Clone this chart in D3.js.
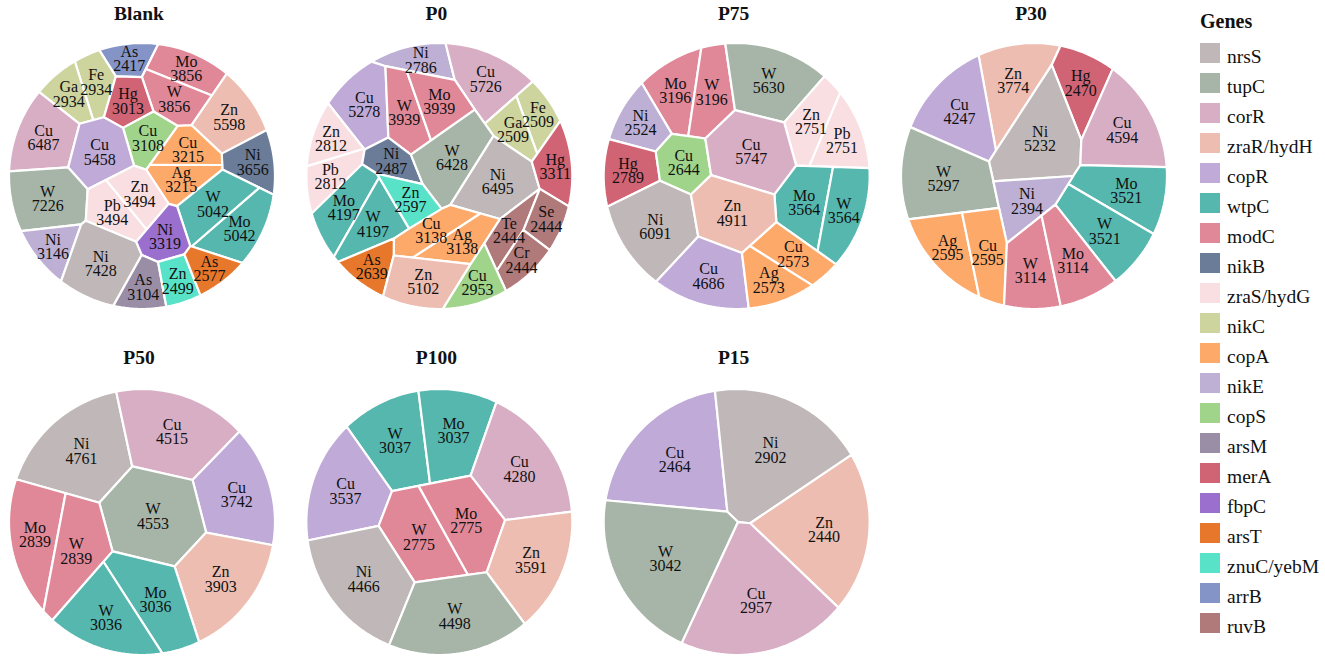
<!DOCTYPE html>
<html><head><meta charset="utf-8">
<script src="https://cdn.jsdelivr.net/npm/d3@7"></script>
<style>
body{margin:0;background:#fff}
svg{display:block}
text{font-family:"Liberation Serif","Times New Roman",serif}
</style>
</head><body>
<svg id="chart" width="1325" height="663"></svg>
<script>
// ---------------- DATA ----------------
const genes = ["nrsS","tupC","corR","zraR/hydH","copR","wtpC","modC","nikB","zraS/hydG","nikC",
  "copA","nikE","copS","arsM","merA","fbpC","arsT","znuC/yebM","arrB","ruvB"];
const geneColors = ["#c0b8b8","#a7b5a8","#d8aec5","#ecbdb0","#c0aad8","#55b7ae","#e08898","#6a7c98","#f9dfe1","#cdd49e",
  "#fda96a","#bdb0d4","#a0d48a","#9a8ea6","#d06474","#9a6fcd","#e7782b","#58e3c8","#8494c6","#b07a7a"];
const panelNames = ["Blank","P0","P75","P30","P50","P100","P15"];

// [gene, metal, value]
const blankRows = [["arrB","As",2417],["nikC","Fe",2934],["nikC","Ga",2934],["modC","Mo",3856],["modC","W",3856],
  ["zraR/hydH","Zn",5598],["nikB","Ni",3656],["corR","Cu",6487],["merA","Hg",3013],["copS","Cu",3108],
  ["copA","Cu",3215],["copA","Ag",3215],["copR","Cu",5458],["tupC","W",7226],["zraS/hydG","Zn",3494],
  ["zraS/hydG","Pb",3494],["wtpC","W",5042],["wtpC","Mo",5042],["nikE","Ni",3146],["nrsS","Ni",7428],
  ["fbpC","Ni",3319],["arsM","As",3104],["znuC/yebM","Zn",2499],["arsT","As",2577]];
const p0Rows = [["nikE","Ni",2786],["corR","Cu",5726],["copR","Cu",5278],["modC","W",3939],["modC","Mo",3939],
  ["nikC","Fe",2509],["nikC","Ga",2509],["zraS/hydG","Zn",2812],["zraS/hydG","Pb",2812],["nikB","Ni",2487],
  ["tupC","W",6428],["nrsS","Ni",6495],["merA","Hg",3311],["wtpC","Mo",4197],["wtpC","W",4197],
  ["znuC/yebM","Zn",2597],["copA","Cu",3138],["copA","Ag",3138],["ruvB","Te",2444],["ruvB","Se",2444],
  ["ruvB","Cr",2444],["arsT","As",2639],["zraR/hydH","Zn",5102],["copS","Cu",2953]];
const p75Rows = [["modC","Mo",3196],["modC","W",3196],["tupC","W",5630],["nikE","Ni",2524],["zraS/hydG","Zn",2751],
  ["zraS/hydG","Pb",2751],["merA","Hg",2789],["copS","Cu",2644],["corR","Cu",5747],["wtpC","Mo",3564],
  ["wtpC","W",3564],["nrsS","Ni",6091],["zraR/hydH","Zn",4911],["copR","Cu",4686],["copA","Cu",2573],["copA","Ag",2573]];
const p30Rows = [["zraR/hydH","Zn",3774],["merA","Hg",2470],["copR","Cu",4247],["nrsS","Ni",5232],["corR","Cu",4594],
  ["wtpC","Mo",3521],["wtpC","W",3521],["tupC","W",5297],["nikE","Ni",2394],["copA","Ag",2595],["copA","Cu",2595],
  ["modC","W",3114],["modC","Mo",3114]];
const p50Rows = [["nrsS","Ni",4761],["corR","Cu",4515],["copR","Cu",3742],["tupC","W",4553],["modC","Mo",2839],
  ["modC","W",2839],["zraR/hydH","Zn",3903],["wtpC","Mo",3036],["wtpC","W",3036]];
const p100Rows = [["wtpC","W",3037],["wtpC","Mo",3037],["corR","Cu",4280],["copR","Cu",3537],["modC","Mo",2775],
  ["modC","W",2775],["zraR/hydH","Zn",3591],["nrsS","Ni",4466],["tupC","W",4498]];
const p15Rows = [["copR","Cu",2464],["nrsS","Ni",2902],["zraR/hydH","Zn",2440],["tupC","W",3042],["corR","Cu",2957]];
const panelRows = [blankRows,p0Rows,p75Rows,p30Rows,p50Rows,p100Rows,p15Rows];

// ---------------- LAYOUT HINTS (approximate cell centres, unit-circle coords) ----------------
const blankSeeds = [[-0.03,-0.875],[-0.23,-0.79],[-0.47,-0.69],[0.33,-0.825],[0.23,-0.575],[0.68,-0.475],[0.91,-0.14],
  [-0.69,-0.375],[-0.24,-0.44],[0.045,-0.35],[0.33,-0.26],[0.28,-0.01],[-0.39,-0.125],[-0.74,0.14],[-0.02,0.1],
  [-0.24,0.25],[0.57,0.125],[0.795,0.34],[-0.67,0.51],[-0.29,0.66],[0.22,0.44],[0.03,0.825],[0.295,0.8],[0.53,0.69]];
const p0Seeds = [[-0.1,-0.895],[0.4,-0.72],[-0.5625,-0.57],[-0.25,-0.48],[0.0125,-0.56],[0.7625,-0.52],[0.54,-0.395],
  [-0.79,-0.295],[-0.81,-0.06],[-0.3625,-0.12],[0.0875,-0.13],[0.4625,0.005],[0.8875,-0.11],[-0.75,0.19],[-0.49,0.34],
  [-0.25,0.18],[-0.05,0.39],[0.1875,0.48],[0.5375,0.405],[0.825,0.32],[0.6375,0.63],[-0.5125,0.67],[-0.1125,0.79],[0.3125,0.805]];
const p75Seeds = [[-0.46,-0.68],[-0.19,-0.67],[0.28,-0.72],[-0.72,-0.39],[0.545,-0.41],[0.83,-0.245],[-0.85,-0.08],
  [-0.44,-0.095],[0.07,-0.17],[0.48,0.18],[0.82,0.25],[-0.56,0.40],[-0.04,0.29],[-0.2,0.76],[0.43,0.565],[0.235,0.78]];
const p30Seeds = [[-0.155,-0.71],[0.37,-0.69],[-0.55,-0.48],[0.07,-0.23],[0.68,-0.34],[0.715,0.105],[0.54,0.43],
  [-0.68,0.06],[-0.04,0.16],[-0.68,0.53],[-0.32,0.555],[-0.02,0.72],[0.32,0.64]];
const p50Seeds = [[-0.44,-0.55],[0.23,-0.65],[0.73,-0.21],[0.08,-0.075],[-0.81,0.087],[-0.465,0.22],[0.57,0.40],[0.12,0.585],[-0.25,0.72]];
const p100Seeds = [[-0.31,-0.6],[0.14,-0.675],[0.675,-0.325],[-0.74,-0.175],[0.175,-0.075],[-0.2,0.0625],[0.69,0.34],[-0.51,0.475],[0.15,0.66]];
const p15Seeds = [[-0.41,-0.44],[0.26,-0.54],[0.72,0.04],[-0.51,0.265],[0.124,0.50]];
const panelSeeds = [blankSeeds,p0Seeds,p75Seeds,p30Seeds,p50Seeds,p100Seeds,p15Seeds];

// ---------------- VORONOI TREEMAP (power diagrams) ----------------
function clipHalf(poly, a, b, c) {
  let inside = true;
  for (const p of poly) if (a*p[0]+b*p[1]-c > 0) { inside = false; break; }
  if (inside) return poly;
  const out = [], n = poly.length;
  for (let k = 0; k < n; k++) {
    const P = poly[k], Q = poly[(k+1)%n];
    const fp = a*P[0]+b*P[1]-c, fq = a*Q[0]+b*Q[1]-c;
    if (fp <= 0) out.push(P);
    if ((fp <= 0) !== (fq <= 0)) {
      const t = fp/(fp-fq);
      out.push([P[0]+t*(Q[0]-P[0]), P[1]+t*(Q[1]-P[1])]);
    }
  }
  return out;
}
function powerDiagram(sites, clip) {
  return sites.map((s, i) => {
    let poly = clip;
    const si = s.x*s.x + s.y*s.y - s.w;
    for (let j = 0; j < sites.length && poly.length >= 3; j++) {
      if (j === i) continue;
      const t = sites[j];
      poly = clipHalf(poly, 2*(t.x-s.x), 2*(t.y-s.y), (t.x*t.x + t.y*t.y - t.w) - si);
    }
    return poly;
  });
}
const areaOf = p => p.length >= 3 ? Math.abs(d3.polygonArea(p)) : 0;
function goodResult(polys, sites) {
  return polys.every((p, i) => p.length >= 3 && Math.abs(areaOf(p) - sites[i].target) < 0.08*sites[i].target);
}
// fit: areas proportional to values, cell centres pulled to the layout hints
function fitMap(items, clip, iters) {
  const A = areaOf(clip), tot = d3.sum(items, d => d.value), avg = A/items.length;
  const sites = items.map(d => ({x: d.tx, y: d.ty, tx: d.tx, ty: d.ty, w: 0, target: A*d.value/tot, eta: 0.25, last: 0}));
  let polys;
  for (let it = 0; it < iters; it++) {
    polys = powerDiagram(sites, clip);
    const k = (it > iters*0.1 && it < iters*0.75) ? 0.12 : 0;
    polys.forEach((p, i) => {
      const s = sites[i], a = areaOf(p), err = s.target - a;
      const sg = Math.sign(err);
      if (sg !== 0 && sg === -s.last) s.eta *= 0.6; else s.eta = Math.min(0.8, s.eta*1.03);
      s.last = sg;
      s.w += Math.max(-0.08*avg, Math.min(0.08*avg, s.eta*err));
      if (a > 0 && k > 0) {
        const c = d3.polygonCentroid(p);
        s.x += k*(s.tx - c[0]); s.y += k*(s.ty - c[1]);
      }
    });
    for (let i = 0; i < sites.length; i++) for (let j = i+1; j < sites.length; j++) {
      const a = sites[i], b = sites[j], dx = b.x-a.x, dy = b.y-a.y, d = Math.hypot(dx, dy);
      if (d < 4) { const f = (4-d)/2/(d||1); a.x -= dx*f; a.y -= dy*f; b.x += dx*f; b.y += dy*f; }
    }
  }
  polys = powerDiagram(sites, clip);
  return {polys, ok: goodResult(polys, sites)};
}
// fallback: classic Voronoi map (Lloyd moves + multiplicative weights)
function lloydMap(items, clip, iters) {
  const A = areaOf(clip), tot = d3.sum(items, d => d.value);
  const sites = items.map(d => ({x: d.tx, y: d.ty, w: A/items.length/2, target: A*d.value/tot}));
  const fix = () => {
    let f = true, g = 0;
    while (f && g++ < 200) { f = false;
      for (let i = 0; i < sites.length; i++) for (let j = i+1; j < sites.length; j++) {
        const a = sites[i], b = sites[j], hi = a.w >= b.w ? a : b, lo = hi === a ? b : a;
        const d2 = (a.x-b.x)**2 + (a.y-b.y)**2;
        if (d2 < hi.w - lo.w) { lo.w = hi.w - d2 + 1e-6; f = true; }
      } }
  };
  for (let it = 0; it < iters; it++) {
    const lim = 0.015 + 0.085*(1 - it/iters);
    let polys = powerDiagram(sites, clip);
    polys.forEach((p, i) => { if (p.length >= 3) { const c = d3.polygonCentroid(p);
      sites[i].x += (c[0]-sites[i].x)*0.6; sites[i].y += (c[1]-sites[i].y)*0.6; } });
    fix();
    polys = powerDiagram(sites, clip);
    polys.forEach((p, i) => { const a = areaOf(p); let r = a > 0 ? sites[i].target/a : 1+lim;
      r = Math.max(1-lim, Math.min(1+lim, r)); sites[i].w = Math.max(1e-6, sites[i].w*r); });
    fix();
  }
  return powerDiagram(sites, clip);
}
function voronoiMap(items, clip, iters) {
  if (items.length === 1) return [clip];
  let res = null;
  try { res = fitMap(items, clip, iters); } catch (e) { res = null; }
  if (res && res.ok) return res.polys;
  return lloydMap(items, clip, Math.round(iters/3));
}

// ---------------- DRAW ----------------
const svg = d3.select("#chart");
const color = d3.scaleOrdinal().domain(genes).range(geneColors);
const colX = d3.scaleLinear().domain([0, 3]).range([142, 1034]);
const rowY = d3.scaleLinear().domain([0, 1]).range([176, 522]);
const R = 133;
const titleY = [19.5, 363.5];
const circle = d3.range(200).map(k => [R*Math.cos(2*Math.PI*k/200), R*Math.sin(2*Math.PI*k/200)]);
const seedScale = d3.scaleLinear().domain([-1, 1]).range([-R, R]);

panelNames.forEach((name, pi) => {
  const c = pi % 4, r = Math.floor(pi / 4);
  const cx = colX(c), cy = rowY(r);
  const rows = panelRows[pi], seeds = panelSeeds[pi];
  const leaves = rows.map((d, i) => ({gene: d[0], metal: d[1], value: d[2],
    x: seedScale(seeds[i][0]), y: seedScale(seeds[i][1])}));
  const groups = d3.groups(leaves, d => d.gene).map(([g, ls]) => {
    const v = d3.sum(ls, d => d.value);
    return {gene: g, leaves: ls, value: v,
      tx: d3.sum(ls, d => d.x*d.value)/v, ty: d3.sum(ls, d => d.y*d.value)/v};
  });
  const gPolys = voronoiMap(groups, circle, 1500);
  const cells = [];
  groups.forEach((g, gi) => {
    const poly = gPolys[gi];
    if (!poly || poly.length < 3) return;
    const cen = d3.polygonCentroid(poly);
    const ox = cen[0] - g.tx, oy = cen[1] - g.ty;
    const items = g.leaves.map(l => {
      let x = l.x + ox, y = l.y + oy, guard = 0;
      while (!d3.polygonContains(poly, [x, y]) && guard++ < 30) { x = cen[0] + (x-cen[0])*0.85; y = cen[1] + (y-cen[1])*0.85; }
      return {value: l.value, tx: x, ty: y, leaf: l};
    });
    const sub = voronoiMap(items, poly, 700);
    items.forEach((it, k) => { if (sub[k] && sub[k].length >= 3) cells.push({leaf: it.leaf, poly: sub[k]}); });
  });

  const g = svg.append("g").attr("transform", `translate(${cx},${cy})`);
  g.selectAll("path.cell").data(cells).join("path")
    .attr("class", "cell")
    .attr("d", d => "M" + d.poly.map(p => p[0].toFixed(2) + "," + p[1].toFixed(2)).join("L") + "Z")
    .attr("fill", d => color(d.leaf.gene))
    .attr("stroke", "#fff").attr("stroke-width", 2.2).attr("stroke-linejoin", "round");
  const lab = g.selectAll("text.lab").data(cells).join("text")
    .attr("class", "lab")
    .attr("text-anchor", "middle").attr("font-size", 16).attr("fill", "#111")
    .attr("transform", d => { const p = d3.polygonCentroid(d.poly); return `translate(${p[0]},${p[1]})`; });
  lab.append("tspan").attr("x", 0).attr("y", -2).text(d => d.leaf.metal);
  lab.append("tspan").attr("x", 0).attr("y", 12.5).text(d => d.leaf.value);

  svg.append("text").attr("x", cx - 3).attr("y", titleY[r])
    .attr("text-anchor", "middle").attr("font-size", 19.5).attr("font-weight", "bold").attr("fill", "#111")
    .text(name);
});

// legend
const leg = svg.append("g").attr("transform", "translate(1200,0)");
leg.append("text").attr("x", 0).attr("y", 27.5).attr("font-size", 20).attr("font-weight", "bold").attr("fill", "#111").text("Genes");
const legY = d3.scaleLinear().domain([0, 1]).range([43, 73]);
const li = leg.selectAll("g.item").data(genes).join("g").attr("class", "item")
  .attr("transform", (d, i) => `translate(0,${legY(i)})`);
li.append("rect").attr("width", 20).attr("height", 20).attr("fill", d => color(d));
li.append("text").attr("x", 27).attr("y", 19.5).attr("font-size", 19.5).attr("fill", "#111").text(d => d);
</script>
</body></html>
